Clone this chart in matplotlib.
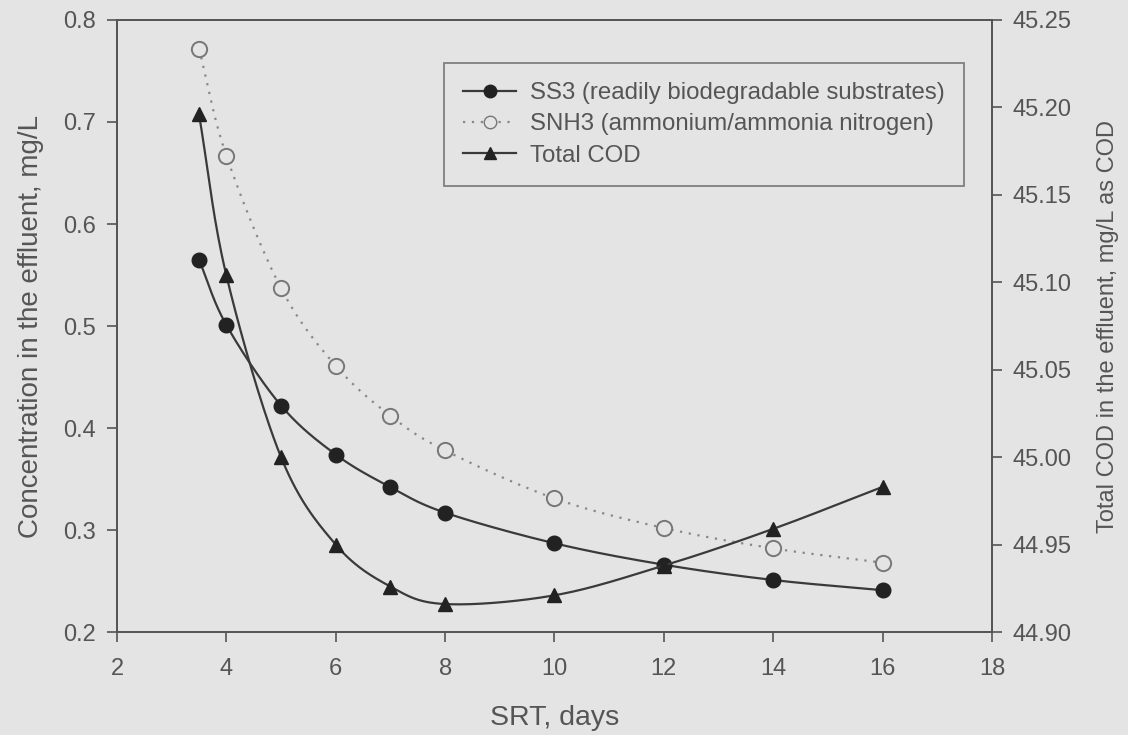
import numpy as np
import matplotlib
matplotlib.use("Agg")
import matplotlib.pyplot as plt
from matplotlib.lines import Line2D

plt.rcParams['font.family'] = ['Liberation Sans', 'DejaVu Sans']

# ---- data ----
srt = [3.5, 4, 5, 6, 7, 8, 10, 12, 14, 16]
ss3 = [0.565, 0.501, 0.422, 0.374, 0.342, 0.317, 0.287, 0.266, 0.251, 0.241]
snh3 = [0.772, 0.667, 0.537, 0.461, 0.412, 0.378, 0.331, 0.302, 0.282, 0.268]
total_cod = [45.196, 45.104, 45.000, 44.950, 44.926, 44.916, 44.921, 44.938, 44.959, 44.983]

x_ticks = [2, 4, 6, 8, 10, 12, 14, 16, 18]
left_ticks = [0.2, 0.3, 0.4, 0.5, 0.6, 0.7, 0.8]
right_ticks = [44.90, 44.95, 45.00, 45.05, 45.10, 45.15, 45.20, 45.25]

labels = ["SS3 (readily biodegradable substrates)",
          "SNH3 (ammonium/ammonia nitrogen)",
          "Total COD"]


def smooth(x, y, n=30):
    """Catmull-Rom style smoothing used only for drawing the connecting line."""
    x = np.asarray(x, float)
    y = np.asarray(y, float)
    P = np.column_stack([x, y])
    P = np.vstack([2 * P[0] - P[1], P, 2 * P[-1] - P[-2]])
    out = []
    for i in range(1, len(P) - 2):
        p0, p1, p2, p3 = P[i - 1], P[i], P[i + 1], P[i + 2]
        t = np.linspace(0, 1, n, endpoint=False)[:, None]
        seg = 0.5 * ((2 * p1) + (-p0 + p2) * t + (2 * p0 - 5 * p1 + 4 * p2 - p3) * t ** 2
                     + (-p0 + 3 * p1 - 3 * p2 + p3) * t ** 3)
        out.append(seg)
    out.append(P[-2][None, :])
    S = np.vstack(out)
    return S[:, 0], S[:, 1]


bg = '#e4e4e4'
txt = '#555555'
line_c = '#3a3a3a'
mk_c = '#222222'

fig = plt.figure(figsize=(11.28, 7.35), dpi=100)
fig.patch.set_facecolor(bg)
ax = fig.add_axes([0.1037, 0.1401, 0.7757, 0.8327])
ax.set_facecolor(bg)
ax2 = ax.twinx()

# SS3
sx, sy = smooth(srt, ss3)
ax.plot(sx, sy, color=line_c, lw=1.6, zorder=3)
ax.plot(srt, ss3, 'o', ms=10.5, color=mk_c, zorder=4)
# SNH3
sx, sy = smooth(srt, snh3)
ax.plot(sx, sy, color='#888888', lw=1.6, ls=(0, (1, 3)), zorder=3)
ax.plot(srt, snh3, 'o', ms=11, mfc=bg, mec='#777777', mew=1.4, zorder=4)
# Total COD (right axis)
sx, sy = smooth(srt, total_cod)
ax2.plot(sx, sy, color=line_c, lw=1.6, zorder=3)
ax2.plot(srt, total_cod, '^', ms=10.5, color=mk_c, zorder=4)

ax.set_xlim(2, 18)
ax.set_ylim(0.2, 0.8)
ax2.set_ylim(44.90, 45.25)
ax.set_xticks(x_ticks)
ax.set_xticklabels([str(v) for v in x_ticks])
ax.set_yticks(left_ticks)
ax.set_yticklabels([f"{v:.1f}" for v in left_ticks])
ax2.set_yticks(right_ticks)
ax2.set_yticklabels([f"{v:.2f}" for v in right_ticks])

for a in (ax, ax2):
    for s in a.spines.values():
        s.set_color('#555555')
        s.set_linewidth(1.3)
ax.tick_params(axis='x', direction='out', length=7, width=1.2, color='#555555',
               labelcolor=txt, labelsize=17, pad=12)
ax.tick_params(axis='y', direction='out', length=7, width=1.2, color='#555555',
               labelcolor=txt, labelsize=17, pad=8)
ax2.tick_params(axis='y', direction='out', length=7, width=1.2, color='#555555',
                labelcolor=txt, labelsize=17, pad=8)

ax.set_xlabel("SRT, days", fontsize=20.5, color=txt, labelpad=18)
ax.set_ylabel("Concentration in the effluent, mg/L", fontsize=20, color=txt, labelpad=14)
ax2.set_ylabel("Total COD in the effluent, mg/L as COD", fontsize=17, color=txt, labelpad=18)

handles = [
    Line2D([], [], color=line_c, lw=1.6, marker='o', ms=9, mfc=mk_c, mec=mk_c),
    Line2D([], [], color='#888888', lw=1.6, ls=(0, (1, 3)), marker='o', ms=9, mfc=bg, mec='#777777'),
    Line2D([], [], color=line_c, lw=1.6, marker='^', ms=9, mfc=mk_c, mec=mk_c),
]
leg = ax.legend(handles, labels, loc='upper left', bbox_to_anchor=(0.3737, 0.9297),
                borderaxespad=0, frameon=True, fancybox=False, fontsize=17.3,
                handlelength=2.2, handletextpad=0.6, labelspacing=0.38,
                borderpad=0.8, labelcolor=txt)
leg.get_frame().set_facecolor(bg)
leg.get_frame().set_edgecolor('#666666')
leg.get_frame().set_linewidth(1.3)

fig.savefig("out.png", dpi=100, facecolor=bg)
